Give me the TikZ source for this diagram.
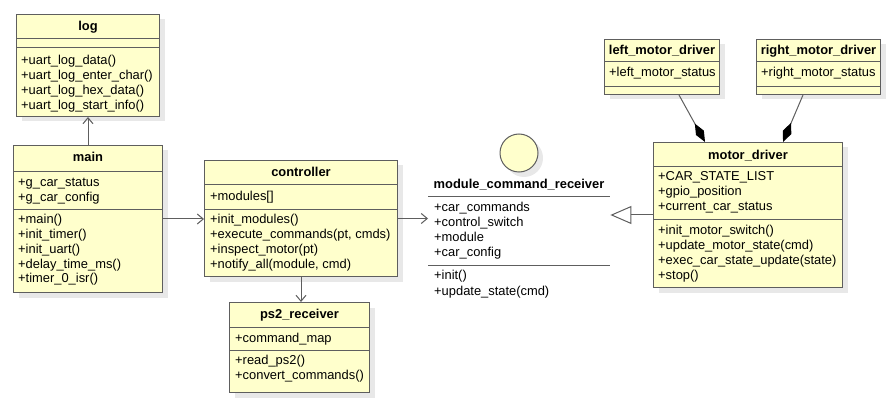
\documentclass[tikz,border=0pt]{standalone}
\usepackage{fontspec}
\setmainfont{Liberation Sans}
\usetikzlibrary{arrows.meta,calc,shadows}

\definecolor{classfill}{HTML}{FFFFCC}
\definecolor{classline}{HTML}{5E5E5E}
\newcommand\umlfont{\fontsize{12.9}{15}\selectfont}
% horizontal compartment divider inside a class box, #2 px below its top edge
\newcommand\umlsep[2]{\draw[sep] ($(#1.north west)+(0,#2)$) -- ($(#1.north east)+(0,#2)$);}

\tikzset{
  boxshadow/.style={general shadow={fill=black!9, draw=none, shadow xshift=5pt, shadow yshift=-5pt}},
  classbox/.style={rectangle, draw=classline, fill=classfill, line width=1pt, inner sep=0pt, anchor=north west, boxshadow},
  classtitle/.style={font=\umlfont\bfseries, inner sep=0pt, anchor=base},
  member/.style={font=\umlfont, inner sep=0pt, anchor=base west},
  sep/.style={draw=classline, line width=1pt},
  conn/.style={draw=classline, line width=1pt},
  dep/.style={conn, -{Straight Barb[length=6pt,width=10pt]}},
  realize/.style={conn, -{Triangle[open, length=21pt, width=18pt, fill=white]}},
  compose/.style={conn, -{Diamond[length=21pt, width=9pt, color=black]}},
}

\begin{document}
\begin{tikzpicture}[x=1pt,y=-1pt]
\useasboundingbox (0,0) rectangle (895,401);

% ---------- log ----------
\node[classbox, minimum width=143pt, minimum height=102pt] (log) at (16,14) {};
\umlsep{log}{25}
\umlsep{log}{34}
\node[classtitle] (log-title) at ($(log.north)+(0,16.8)$) {log};
\foreach \t [count=\i from 0] in {+uart\_log\_data(), +uart\_log\_enter\_char(), +uart\_log\_hex\_data(), +uart\_log\_start\_info()}
  \node[member] (log-m\i) at (21,{65+14.85*\i}) {\t};

% ---------- main ----------
\node[classbox, minimum width=149pt, minimum height=147pt] (main) at (13,145) {};
\umlsep{main}{27}
\umlsep{main}{65}
\node[classtitle] (main-title) at ($(main.north)+(0,16.8)$) {main};
\foreach \t [count=\i from 0] in {+g\_car\_status, +g\_car\_config}
  \node[member] (main-a\i) at (18,{186.2+14.8*\i}) {\t};
\foreach \t [count=\i from 0] in {+main(), +init\_timer(), +init\_uart(), +delay\_time\_ms(), +timer\_0\_isr()}
  \node[member] (main-m\i) at (18,{223.5+14.85*\i}) {\t};

% ---------- controller ----------
\node[classbox, minimum width=193pt, minimum height=116pt] (controller) at (204,160) {};
\umlsep{controller}{25}
\umlsep{controller}{50}
\node[classtitle] (controller-title) at ($(controller.north)+(0,16.8)$) {controller};
\node[member] (controller-a0) at (210,200.8) {+modules[]};
\foreach \t [count=\i from 0] in {+init\_modules(), {+execute\_commands(pt, cmds)}, +inspect\_motor(pt), {+notify\_all(module, cmd)}}
  \node[member] (controller-m\i) at (210,{223.5+14.85*\i}) {\t};

% ---------- ps2_receiver ----------
\node[classbox, minimum width=140pt, minimum height=90pt] (ps2) at (229,302) {};
\umlsep{ps2}{25}
\umlsep{ps2}{48}
\node[classtitle] (ps2-title) at ($(ps2.north)+(0,16.5)$) {ps2\_receiver};
\node[member] (ps2-a0) at (235,342.5) {+command\_map};
\foreach \t [count=\i from 0] in {+read\_ps2(), +convert\_commands()}
  \node[member] (ps2-m\i) at (235,{364.5+15.3*\i}) {\t};

% ---------- module_command_receiver (interface) ----------
\node[circle, draw=classline, fill=classfill, line width=1pt, minimum size=38pt, inner sep=0pt, boxshadow] (mcr-icon) at (519,153) {};
\node[rectangle, inner sep=0pt, anchor=north west, minimum width=182pt, minimum height=130pt] (mcr) at (428,170) {};
\umlsep{mcr}{27}
\umlsep{mcr}{95}
\node[classtitle] (mcr-title) at (519,188.5) {module\_command\_receiver};
\foreach \t [count=\i from 0] in {+car\_commands, +control\_switch, +module, +car\_config}
  \node[member] (mcr-a\i) at (434,{211.8+14.8*\i}) {\t};
\foreach \t [count=\i from 0] in {+init(), +update\_state(cmd)}
  \node[member] (mcr-m\i) at (434,{279.5+15.5*\i}) {\t};

% ---------- motor_driver ----------
\node[classbox, minimum width=189pt, minimum height=145pt] (motor) at (653,142) {};
\umlsep{motor}{25}
\umlsep{motor}{78}
\node[classtitle] (motor-title) at ($(motor.north)+(0,17.5)$) {motor\_driver};
\foreach \t [count=\i from 0] in {+CAR\_STATE\_LIST, +gpio\_position, +current\_car\_status}
  \node[member] (motor-a\i) at (658,{180.2+15.2*\i}) {\t};
\foreach \t [count=\i from 0] in {+init\_motor\_switch(), +update\_motor\_state(cmd), +exec\_car\_state\_update(state), +stop()}
  \node[member] (motor-m\i) at (658,{234.5+15*\i}) {\t};

% ---------- left / right motor drivers ----------
\node[classbox, minimum width=115pt, minimum height=55pt] (left) at (604,39) {};
\umlsep{left}{23}
\umlsep{left}{48}
\node[classtitle] (left-title) at ($(left.north)+(0,15.2)$) {left\_motor\_driver};
\node[member] (left-a0) at (609,76.8) {+left\_motor\_status};

\node[classbox, minimum width=124pt, minimum height=55pt] (right) at (756,39) {};
\umlsep{right}{23}
\umlsep{right}{48}
\node[classtitle] (right-title) at ($(right.north)+(0,15.2)$) {right\_motor\_driver};
\node[member] (right-a0) at (761,76.8) {+right\_motor\_status};

% ---------- connectors ----------
\draw[dep] (main.north) -- (main.north |- log.south);
\draw[dep] (main.east) -- (main.east -| controller.west);
\draw[dep] (controller.south) -- (controller.south |- ps2.north);
\draw[dep] (controller.east) -- (controller.east -| mcr.west);
\draw[realize] (motor.west) -- (motor.west -| mcr.east);
\coordinate (left-end) at ($(left.south west)+(75,0)$);
\coordinate (right-end) at ($(right.south west)+(47,0)$);
\draw[compose] (left-end) -- ($(motor.north west)+(52,0)$);
\draw[compose] (right-end) -- ($(motor.north west)+(130,0)$);
\end{tikzpicture}
\end{document}
